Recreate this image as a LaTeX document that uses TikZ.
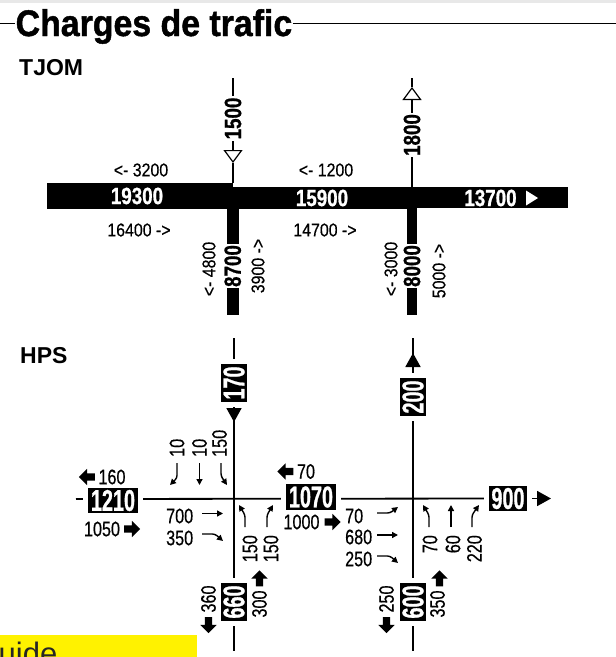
\documentclass[tikz,border=0pt]{standalone}
\usepackage{fontspec}
\setmainfont{Liberation Sans}
\newfontfamily\titlefont[FakeStretch=0.915, FakeBold=1.2]{Liberation Sans}
\newfontfamily\tjfont[FakeStretch=0.86, FakeBold=0.4]{Liberation Sans}
\newfontfamily\tjbfont[FakeStretch=0.8, FakeBold=0.8]{Liberation Sans}
\newfontfamily\hpfont[FakeStretch=0.77, FakeBold=0.5]{Liberation Sans}
\newfontfamily\boxfont[FakeStretch=0.66, FakeBold=0.8]{Liberation Sans}
\usetikzlibrary{arrows.meta, positioning, shapes.arrows, shapes.geometric, backgrounds}
\definecolor{guideyellow}{HTML}{FFF200}
\definecolor{bandgray}{HTML}{E8E8E8}

\begin{document}
\begin{tikzpicture}[
  x=1pt, y=-1pt,
  every node/.style={inner sep=0pt},
  heading/.style={font=\bfseries\fontsize{23}{23}\selectfont, anchor=base west},
  tjlbl/.style={font=\tjfont\fontsize{18.5}{18.5}\selectfont},
  tjnum/.style={font=\tjbfont\bfseries\fontsize{23.5}{23.5}\selectfont},
  tjcut/.style={tjnum, fill=white, inner xsep=1.5pt, inner ysep=0.5pt, rotate=90},
  road/.style={line width=1.8pt},
  opentip/.style={-{Triangle[open, length=13pt, width=19pt, line width=1.2pt]}},
  hlbl/.style={font=\hpfont\fontsize{21}{21}\selectfont},
  hbox/.style={font=\boxfont\bfseries\fontsize{30}{30}\selectfont, text=white,
    fill=black, draw=white, line width=5pt, inner xsep=5pt, inner ysep=4.5pt},
  htip/.style={line width=1.8pt, -{Triangle[length=14pt, width=15pt]}},
  blk/.style={single arrow, fill=black, minimum height=16pt,
    single arrow head extend=4.5pt, inner xsep=0pt, inner ysep=3.5pt, rotate=#1},
  blk/.default=0,
  mv/.style={line width=1.4pt, rounded corners=2.5pt, -{Triangle[length=6pt, width=6pt]}}
]

\clip (0,0) rectangle (616,657);
\fill[bandgray] (0,0) rectangle (616,3);

% ---- TITRE ----
\draw[line width=1.5pt] (0,23.5) -- (616,23.5);
\node[font=\titlefont\bfseries\fontsize{37}{37}\selectfont, fill=white,
  inner xsep=1pt, inner ysep=2pt, anchor=base west] (title) at (14.5,36) {Charges de trafic};

% ---- TJOM ----
\node[heading] (tjom) at (19,75) {TJOM};

\fill (47,182.5) rectangle (233,208.5);
\fill (233,186.5) rectangle (412,208.5);
\fill (412,187) rectangle (568,208);
\fill (226.5,208) rectangle (239,315);
\fill (406.8,208) rectangle (417.3,315);

\coordinate (n1top) at (233,78);
\coordinate (n1tip) at (233,163);
\coordinate (n1foot) at (233,183);
\coordinate (n2top) at (412,78);
\coordinate (n2tip) at (412,87);
\coordinate (n2foot) at (412,187);
\draw[road, opentip] (n1top) -- (n1tip);
\draw[road] (n1tip) -- (n1foot);
\draw[road] (n2top) -- (n2tip);
\draw[road, opentip] (n2foot) -- (n2tip);

\node[tjcut] (n1lbl) at (233,118.5) {1500};
\node[tjcut] (n2lbl) at (412,135) {1800};
\node[tjcut] (s1lbl) at (232.75,266) {8700};
\node[tjcut] (s2lbl) at (412,266) {8000};

\node[tjnum, text=white] (m1) at (137,196) {19300};
\node[tjnum, text=white] (m2) at (322,198) {15900};
\node[tjnum, text=white] (m3) at (490.5,198) {13700};
\node[isosceles triangle, isosceles triangle stretches, fill=white,
  minimum width=15pt, minimum height=12pt, right=9pt of m3] (m3dir) {};

\node[tjlbl] (w1) at (141,170) {<- 3200};
\node[tjlbl] (w2) at (326,170) {<- 1200};
\node[tjlbl] (e1) at (139,230) {16400 ->};
\node[tjlbl] (e2) at (325,230) {14700 ->};
\node[tjlbl, rotate=90] (s1in) at (209,269) {<- 4800};
\node[tjlbl, rotate=90] (s1out) at (258,266) {3900 ->};
\node[tjlbl, rotate=90] (s2in) at (391,269) {<- 3000};
\node[tjlbl, rotate=90] (s2out) at (439,271) {5000 ->};

% ---- HPS ----
\node[heading] (hps) at (20,363) {HPS};

\node[hbox] (b1210) at (113,500.5) {1210};
\node[hbox] (b1070) at (311,497) {1070};
\node[hbox] (b900) at (508,498.5) {900};
\node[hbox, rotate=90] (b170) at (234,383) {170};
\node[hbox, rotate=90] (b200) at (413,397) {200};
\node[hbox, rotate=90] (b660) at (234,602) {660};
\node[hbox, rotate=90] (b600) at (413,602) {600};

\coordinate (v1top) at (234,338);
\coordinate (v1bot) at (234,651);
\coordinate (v2top) at (413,338);
\coordinate (v2bot) at (413,651);
\coordinate (hleft) at (76,499);
\coordinate (t170) at (234,422);
\coordinate (t200) at (413,353);
\coordinate (t900) at (551,498.5);
\draw[htip] (b170) -- (t170);
\draw[htip] (b200) -- (t200);
\draw[htip] (b900) -- (t900);

% totaux par branche
\node[hlbl] (h160) at (112,477) {160};
\node[blk=180] (a160) at ([xshift=-9.5pt]h160.west) {};
\node[hlbl] (h1050) at (102,529) {1050};
\node[blk] (a1050) at ([xshift=10pt]h1050.east) {};
\node[hlbl] (h70) at (306,471.5) {70};
\node[blk=180] (a70) at ([xshift=-9.5pt]h70.west) {};
\node[hlbl] (h1000) at (301.5,522) {1000};
\node[blk] (a1000) at ([xshift=11pt]h1000.east) {};
\node[hlbl, rotate=90] (l360) at (208.5,599) {360};
\node[blk=270] (a360) at ([yshift=-10.5pt]l360.west) {};
\node[hlbl, rotate=90] (l300) at (259.5,604) {300};
\node[blk=90] (a300) at ([yshift=10pt]l300.east) {};
\node[hlbl, rotate=90] (l250) at (386.5,599) {250};
\node[blk=270] (a250) at ([yshift=-10.5pt]l250.west) {};
\node[hlbl, rotate=90] (l350) at (437.5,604) {350};
\node[blk=90] (a350) at ([xshift=2pt, yshift=10pt]l350.east) {};

% mouvements tournants, carrefour ouest
\node[hlbl, rotate=90, anchor=west] (s10a) at (177,457) {10};
\node[hlbl, rotate=90, anchor=west] (s10b) at (199.5,457) {10};
\node[hlbl, rotate=90, anchor=west] (s150) at (219.5,457) {150};
\draw[mv] ([yshift=-6pt]s10a.west) -- ++(0,15) -- ++(-7,7);
\draw[mv] ([yshift=-6pt]s10b.west) -- ++(0,22);
\draw[mv] ([xshift=1.5pt, yshift=-6pt]s150.west) -- ++(0,13) -- ++(6,9);

\node[hlbl, anchor=west] (e700) at (166,516) {700};
\node[hlbl, anchor=west] (e350) at (166,538) {350};
\draw[mv] ([xshift=36pt, yshift=2.5pt]e700.west) -- ++(21,0);
\draw[mv] ([xshift=36pt, yshift=4pt]e350.west) -- ++(13,0) -- ++(8,7);

\node[hlbl, rotate=90, anchor=east] (n150a) at (250,535) {150};
\node[hlbl, rotate=90, anchor=east] (n150b) at (271,535) {150};
\draw[mv] ([xshift=-5pt, yshift=8pt]n150a.east) -- ++(0,-12) -- ++(-6,-10);
\draw[mv] ([xshift=-4pt, yshift=8pt]n150b.east) -- ++(0,-12) -- ++(6,-10);

% mouvements tournants, carrefour est
\node[hlbl, anchor=west] (w70) at (345,516) {70};
\node[hlbl, anchor=west] (w680) at (345,537) {680};
\node[hlbl, anchor=west] (w250) at (345,559) {250};
\draw[mv] ([xshift=32pt, yshift=3pt]w70.west) -- ++(13,0) -- ++(8,-6);
\draw[mv] ([xshift=32pt, yshift=2pt]w680.west) -- ++(21,0);
\draw[mv] ([xshift=32pt, yshift=3pt]w250.west) -- ++(13,0) -- ++(8,7);

\node[hlbl, rotate=90, anchor=east] (r70) at (430,535) {70};
\node[hlbl, rotate=90, anchor=east] (r60) at (453,535) {60};
\node[hlbl, rotate=90, anchor=east] (r220) at (474.5,535) {220};
\draw[mv] ([xshift=-1pt, yshift=8pt]r70.east) -- ++(0,-12) -- ++(-6,-10);
\draw[mv] ([xshift=-2pt, yshift=8pt]r60.east) -- ++(0,-22);
\draw[mv] ([xshift=-2.5pt, yshift=8pt]r220.east) -- ++(0,-12) -- ++(7,-10);

% ---- ROUTES (fond) ----
\begin{scope}[on background layer]
  \draw[road] (v1top) -- (v1bot);
  \draw[road] (v2top) -- (v2bot);
  \draw[road] (hleft) -- (b900);
\end{scope}

% ---- BAS DE PAGE ----
\fill[guideyellow] (0,635) rectangle (197,657);
\node[font=\fontsize{31}{31}\selectfont, text=black!85, anchor=base west] (guide) at (-1.5,664) {uide};
\end{tikzpicture}
\end{document}
